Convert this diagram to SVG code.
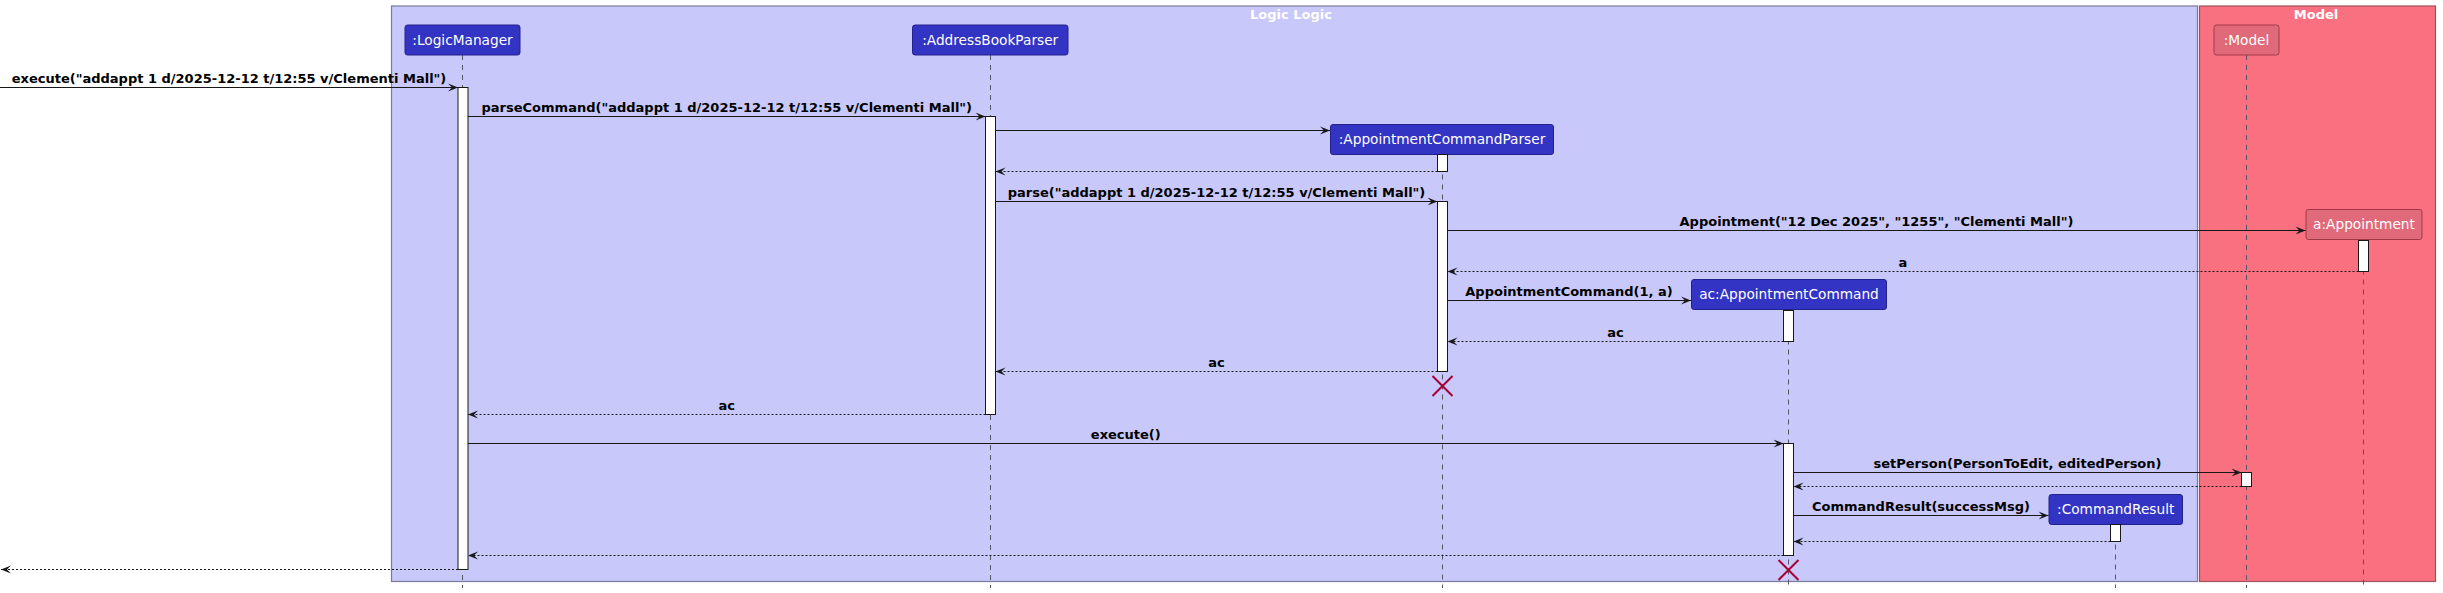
<svg xmlns="http://www.w3.org/2000/svg" width="2443" height="593" viewBox="0 0 2443 593">
<defs>
<marker id="ah" markerUnits="userSpaceOnUse" markerWidth="11" markerHeight="9" refX="10" refY="4.5" orient="auto">
<path d="M0,0.5 L10,4.5 L0,8.5 L4,4.5 Z" fill="#181818"/>
</marker>
<style>
.frameL{fill:#C8C8FA;stroke:#7A7A9A;stroke-width:1.2}
.frameM{fill:#F97181;stroke:#A0505A;stroke-width:1.2}
.ftitle{font-family:"DejaVu Sans",sans-serif;font-size:13px;font-weight:bold;fill:#FFFFFF;text-anchor:middle}
.pL{fill:#3333C4;stroke:#22228A;stroke-width:1}
.pM{fill:#E06A7A;stroke:#A03848;stroke-width:1}
.ptext{font-family:"DejaVu Sans",sans-serif;font-size:13.7px;fill:#FFFFFF;text-anchor:middle}
.life{stroke:#555566;stroke-width:1;stroke-dasharray:5,5;fill:none}
.act{fill:#FFFFFF;stroke:#181818;stroke-width:1}
.msg{stroke:#181818;stroke-width:1;fill:none;marker-end:url(#ah)}
.ret{stroke:#181818;stroke-width:1;fill:none;stroke-dasharray:2,2;marker-end:url(#ah)}
.lbl{font-family:"DejaVu Sans",sans-serif;font-size:13px;font-weight:bold;fill:#000000;text-anchor:middle}
.kill{stroke:#A80036;stroke-width:2;fill:none}
</style>
</defs>
<g id="frames">
<rect class="frameL" x="391.5" y="6" width="1806" height="575.5"/>
<text class="ftitle" x="1291" y="18.5">Logic Logic</text>
<rect class="frameM" x="2199.5" y="6" width="236" height="575.5"/>
<text class="ftitle" x="2316" y="18.5">Model</text>
</g>
<g id="lifelines">
<line class="life" x1="462.5" y1="55" x2="462.5" y2="588"/>
<line class="life" x1="990.5" y1="55" x2="990.5" y2="588"/>
<line class="life" x1="1442.5" y1="154.5" x2="1442.5" y2="588"/>
<line class="life" x1="1788.5" y1="309.5" x2="1788.5" y2="588"/>
<line class="life" x1="2115.5" y1="524.5" x2="2115.5" y2="588"/>
<line class="life" x1="2246.5" y1="55" x2="2246.5" y2="588"/>
<line class="life" x1="2363.5" y1="239.5" x2="2363.5" y2="585"/>
</g>
<g id="LogicManager">
<rect class="pL" x="405" y="25" width="115" height="30" rx="2.5"/>
<text class="ptext" x="462.5" y="44.8">:LogicManager</text>
<rect class="act" x="458" y="87.5" width="10" height="482"/>
</g>
<g id="AddressBookParser">
<rect class="pL" x="912.5" y="25" width="155.5" height="30" rx="2.5"/>
<text class="ptext" x="990.2" y="44.8">:AddressBookParser</text>
<rect class="act" x="985.5" y="116.5" width="10" height="298"/>
</g>
<g id="AppointmentCommandParser">
<rect class="pL" x="1330.5" y="124.5" width="223" height="30" rx="2.5"/>
<text class="ptext" x="1442" y="144.3">:AppointmentCommandParser</text>
<rect class="act" x="1437.5" y="154.5" width="10" height="17"/>
<rect class="act" x="1437.5" y="201.5" width="10" height="170"/>
</g>
<g id="AppointmentCommand">
<rect class="pL" x="1691.5" y="279.5" width="195" height="30" rx="2.5"/>
<text class="ptext" x="1789" y="299.3">ac:AppointmentCommand</text>
<rect class="act" x="1783.5" y="310.5" width="10" height="31"/>
<rect class="act" x="1783.5" y="443.5" width="10" height="112"/>
</g>
<g id="CommandResult">
<rect class="pL" x="2049" y="494.5" width="133.5" height="30" rx="2.5"/>
<text class="ptext" x="2115.7" y="514.3">:CommandResult</text>
<rect class="act" x="2110.5" y="524.5" width="10" height="17"/>
</g>
<g id="Model">
<rect class="pM" x="2214" y="25" width="65" height="30" rx="2.5"/>
<text class="ptext" x="2246.5" y="44.8">:Model</text>
<rect class="act" x="2241.5" y="472.5" width="10" height="14"/>
</g>
<g id="Appointment">
<rect class="pM" x="2306" y="209.5" width="116" height="30" rx="2.5"/>
<text class="ptext" x="2364" y="229.3">a:Appointment</text>
<rect class="act" x="2358.5" y="240.5" width="10" height="31"/>
</g>
<g id="connectors">
<line class="msg" x1="0" y1="87.5" x2="458" y2="87.5"/>
<text class="lbl" x="229" y="82.5">execute("addappt 1 d/2025-12-12 t/12:55 v/Clementi Mall")</text>
<line class="msg" x1="468" y1="116.5" x2="985.5" y2="116.5"/>
<text class="lbl" x="726.8" y="111.5">parseCommand("addappt 1 d/2025-12-12 t/12:55 v/Clementi Mall")</text>
<line class="msg" x1="995.5" y1="130.5" x2="1330" y2="130.5"/>
<line class="ret" x1="1437.5" y1="171.5" x2="995.5" y2="171.5"/>
<line class="msg" x1="995.5" y1="201.5" x2="1437.5" y2="201.5"/>
<text class="lbl" x="1216.5" y="196.5">parse("addappt 1 d/2025-12-12 t/12:55 v/Clementi Mall")</text>
<line class="msg" x1="1447.5" y1="230.5" x2="2305.5" y2="230.5"/>
<text class="lbl" x="1876.5" y="225.5">Appointment("12 Dec 2025", "1255", "Clementi Mall")</text>
<line class="ret" x1="2358.5" y1="271.5" x2="1447.5" y2="271.5"/>
<text class="lbl" x="1903" y="266.5">a</text>
<line class="msg" x1="1447.5" y1="300.5" x2="1691" y2="300.5"/>
<text class="lbl" x="1569" y="295.5">AppointmentCommand(1, a)</text>
<line class="ret" x1="1783.5" y1="341.5" x2="1447.5" y2="341.5"/>
<text class="lbl" x="1615.5" y="336.5">ac</text>
<line class="ret" x1="1437.5" y1="371.5" x2="995.5" y2="371.5"/>
<text class="lbl" x="1216.5" y="366.5">ac</text>
<path class="kill" d="M1432.5,376 L1452.5,396 M1452.5,376 L1432.5,396"/>
<line class="ret" x1="985.5" y1="414.5" x2="468" y2="414.5"/>
<text class="lbl" x="726.8" y="409.5">ac</text>
<line class="msg" x1="468" y1="443.5" x2="1783.5" y2="443.5"/>
<text class="lbl" x="1125.8" y="438.5">execute()</text>
<line class="msg" x1="1793.5" y1="472.5" x2="2241.5" y2="472.5"/>
<text class="lbl" x="2017.5" y="467.5">setPerson(PersonToEdit, editedPerson)</text>
<line class="ret" x1="2241.5" y1="486.5" x2="1793.5" y2="486.5"/>
<line class="msg" x1="1793.5" y1="515.5" x2="2048.5" y2="515.5"/>
<text class="lbl" x="1921" y="510.5">CommandResult(successMsg)</text>
<line class="ret" x1="2110.5" y1="541.5" x2="1793.5" y2="541.5"/>
<line class="ret" x1="1783.5" y1="555.5" x2="468" y2="555.5"/>
<path class="kill" d="M1778.5,560 L1798.5,580 M1798.5,560 L1778.5,580"/>
<line class="ret" x1="458" y1="569.5" x2="1" y2="569.5"/>
</g>
</svg>
